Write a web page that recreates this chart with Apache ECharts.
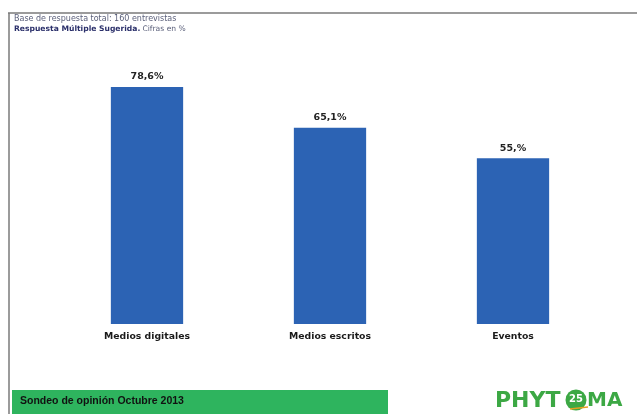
<!DOCTYPE html>
<html><head><meta charset="utf-8">
<script src="https://cdn.jsdelivr.net/npm/echarts@6/dist/echarts.min.js"></script>
<style>html,body{margin:0;padding:0;background:#fff}#c{width:637px;height:414px}</style>
</head><body><div id="c"></div>
<script>
var categories = ['Medios digitales', 'Medios escritos', 'Eventos'];
var values = [78.6, 65.1, 55];
var valueLabels = ['78,6%', '65,1%', '55,%'];
var headerLine1 = 'Base de respuesta total: 160 entrevistas';
var headerBold = 'Respuesta Múltiple Sugerida.';
var headerRest = ' Cifras en %';
var footerText = 'Sondeo de opinión Octubre 2013';

var chart = echarts.init(document.getElementById('c'), null, {renderer: 'canvas'});
var font = 'DejaVu Sans, sans-serif';
chart.setOption({
  animation: false,
  grid: {left: 55.5, right: 32.5, top: 22.5, bottom: 90},
  xAxis: {
    type: 'category', data: categories,
    axisLine: {show: false}, axisTick: {show: false},
    axisLabel: {color: '#1a1a1a', fontFamily: font, fontWeight: 'bold', fontSize: 9.3, margin: 8}
  },
  yAxis: {type: 'value', min: 0, max: 100, show: false, splitLine: {show: false}},
  series: [{
    type: 'bar', data: values, barWidth: '39.5%',
    itemStyle: {color: '#2c63b4'},
    label: {
      show: true, position: 'top', distance: 5,
      color: '#222', fontFamily: font, fontWeight: 'bold', fontSize: 9.5,
      formatter: function (p) { return valueLabels[p.dataIndex]; }
    }
  }],
  graphic: [
    {type: 'line', shape: {x1: 8, y1: 13, x2: 637, y2: 13}, style: {stroke: '#7a7a7a', lineWidth: 1.5}},
    {type: 'line', shape: {x1: 9, y1: 13, x2: 9, y2: 414}, style: {stroke: '#7a7a7a', lineWidth: 1.5}},
    {type: 'text', left: 14, top: 15, style: {text: headerLine1, font: '8px ' + font, fill: '#5a5f7a'}},
    {type: 'text', left: 14, top: 25, style: {text: headerBold, font: 'bold 7.6px ' + font, fill: '#2a2f6a'}},
    {type: 'text', left: 140, top: 25, style: {text: headerRest, font: '7.6px ' + font, fill: '#5a5f7a'}},
    {type: 'rect', shape: {x: 12, y: 390, width: 376, height: 24}, style: {fill: '#2eb45e'}},
    {type: 'text', left: 20, top: 396, style: {text: footerText, font: 'bold 10.5px Liberation Sans, Arial, sans-serif', fill: '#111'}},
    {type: 'text', left: 495, top: 390, style: {text: 'PHYT', font: 'bold 22px ' + font, fill: '#3ca844'}},
    {type: 'circle', shape: {cx: 576, cy: 400, r: 10.5}, style: {fill: '#3ca844'}},
    {type: 'text', left: 569, top: 394, style: {text: '25', font: 'bold 10px ' + font, fill: '#fff'}},
    {type: 'line', shape: {x1: 570, y1: 409, x2: 588, y2: 407}, style: {stroke: '#e8a020', lineWidth: 1.5}},
    {type: 'text', left: 587, top: 391, style: {text: 'MA', font: 'bold 20px ' + font, fill: '#3ca844'}}
  ]
});
</script></body></html>
